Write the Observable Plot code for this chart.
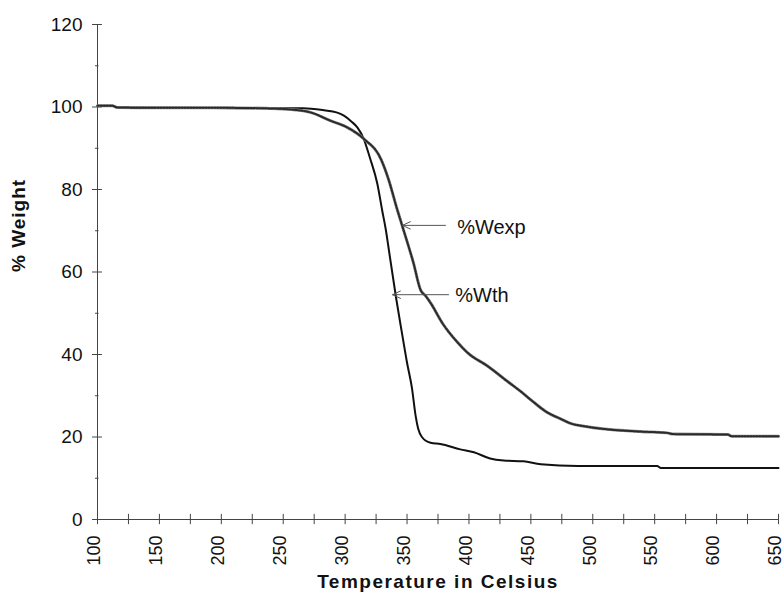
<!DOCTYPE html>
<html>
<head>
<meta charset="utf-8">
<script src="https://cdn.jsdelivr.net/npm/d3@7"></script>
<script src="https://cdn.jsdelivr.net/npm/@observablehq/plot@0.6"></script>
<style>
  html, body { margin: 0; padding: 0; background: #fff; }
  #chart svg { display: block; }
</style>
</head>
<body>
<div id="chart"></div>
<script>
// %Wexp (experimental) curve
const wexpTemp = [100, 112, 116, 150, 200, 245, 260, 272, 288, 302, 315, 329, 335, 342, 346, 349, 355, 361, 365, 369, 379, 390, 399, 415, 431, 442, 452, 462, 474, 482, 493, 514, 540, 560, 565, 609, 612, 650];
const wexpVal  = [100.3, 100.3, 99.9, 99.8, 99.8, 99.6, 99.3, 98.7, 96.7, 95.0, 92.3, 87.3, 82.5, 75.2, 71.3, 68.4, 62.4, 55.6, 54.2, 52.5, 47.4, 43.2, 40.4, 37.2, 33.5, 31, 28.5, 26.2, 24.4, 23.3, 22.6, 21.8, 21.3, 21.0, 20.7, 20.6, 20.2, 20.2];

// %Wth (theoretical) curve
const wthTemp = [100, 112, 116, 245, 266, 283, 293, 299, 305, 310, 315, 320, 326, 330, 333, 335, 341, 346, 350, 354, 357, 359, 362, 369, 377, 393, 404, 417, 428, 444, 458, 488, 552, 555, 650];
const wthVal  = [100.3, 100.3, 99.9, 99.7, 99.7, 99.2, 98.7, 97.9, 96.5, 95, 92.3, 87.7, 81.4, 74.8, 70, 66, 54, 45, 38, 31.8, 25, 22, 20, 18.6, 18.3, 17, 16.3, 14.8, 14.3, 14.1, 13.4, 13.0, 13.0, 12.5, 12.5];

// axes
const xTicks = [100, 150, 200, 250, 300, 350, 400, 450, 500, 550, 600, 650];
const xMinorTicks = [125, 175, 225, 275, 325, 375, 425, 475, 525, 575, 625];
const yTicks = [0, 20, 40, 60, 80, 100, 120];
const yMinorTicks = [10, 30, 50, 70, 90, 110];

// annotations
const annLabels = ["%Wexp", "%Wth"];
const annTipT = [346.3, 338.3];
const annTipW = [71.3, 54.5];
const annTailT = [381, 383.5];
const annTextT = [390.5, 389];
const annTextW = [70.8, 54.3];

const xTitle = "Temperature in Celsius";
const yTitle = "% Weight";

const wexp = wexpTemp.map((t, i) => ({t, w: wexpVal[i]}));
const wth = wthTemp.map((t, i) => ({t, w: wthVal[i]}));
const ann = annLabels.map((label, i) => ({label, tipT: annTipT[i], tipW: annTipW[i], tailT: annTailT[i], textT: annTextT[i], textW: annTextW[i]}));

const axisColor = "#444";

const chart = Plot.plot({
  width: 784,
  height: 599,
  marginLeft: 97,
  marginRight: 6,
  marginTop: 24,
  marginBottom: 80,
  style: {fontFamily: "'Liberation Sans', Arial, sans-serif", fontSize: "19px", color: "#111", background: "#fff"},
  x: {domain: [100, 650]},
  y: {domain: [0, 120]},
  marks: [
    Plot.axisX({ticks: xTicks, tickSize: 0, tickPadding: 16, tickRotate: -90, label: null, fontSize: 18, dx: -3}),
    Plot.axisY({ticks: yTicks, tickSize: 0, tickPadding: 15, label: null, fontSize: 19}),
    // axis lines
    Plot.ruleY([0], {x1: 100, x2: 650, stroke: axisColor, strokeWidth: 1}),
    Plot.ruleX([100], {y1: 0, y2: 120, stroke: axisColor, strokeWidth: 1}),
    // crossing ticks
    Plot.ruleX(xTicks, {y1: -1.25, y2: 1.25, stroke: axisColor}),
    Plot.ruleX(xMinorTicks, {y1: -1.25, y2: 1.25, stroke: axisColor}),
    Plot.ruleY(yTicks, {x1: 96, x2: 104, stroke: axisColor}),
    Plot.ruleY(yMinorTicks, {x1: 98.4, x2: 101.2, stroke: axisColor}),
    // curves
    Plot.line(wth, {x: "t", y: "w", stroke: "#111", strokeWidth: 2, curve: "monotone-x"}),
    Plot.line(wexp, {x: "t", y: "w", stroke: "#8a8a8a", strokeWidth: 3, curve: "monotone-x"}),
    Plot.line(wexp, {x: "t", y: "w", stroke: "#2a2a2a", strokeWidth: 2, strokeDasharray: "1.5,1.5", curve: "monotone-x"}),
    // annotations
    Plot.arrow(ann, {x1: "tailT", y1: "tipW", x2: "tipT", y2: "tipW", stroke: "#555", strokeWidth: 1, headLength: 13, headAngle: 50}),
    Plot.text(ann, {x: "textT", y: "textW", text: "label", textAnchor: "start", fill: "#111", fontSize: 20}),
    // titles
    Plot.text([xTitle], {frameAnchor: "bottom", dy: 68, fontWeight: "bold", fontSize: 19, fill: "#111"}),
    Plot.text([yTitle], {frameAnchor: "left", dx: -79, rotate: -90, fontWeight: "bold", fontSize: 19, fill: "#111"})
  ]
});

document.getElementById("chart").appendChild(chart);
d3.select(chart).selectAll("text").filter(function() { return this.textContent === xTitle; }).style("letter-spacing", "1.5px");
d3.select(chart).selectAll("text").filter(function() { return this.textContent === yTitle; }).style("letter-spacing", "1px");
</script>
</body>
</html>
